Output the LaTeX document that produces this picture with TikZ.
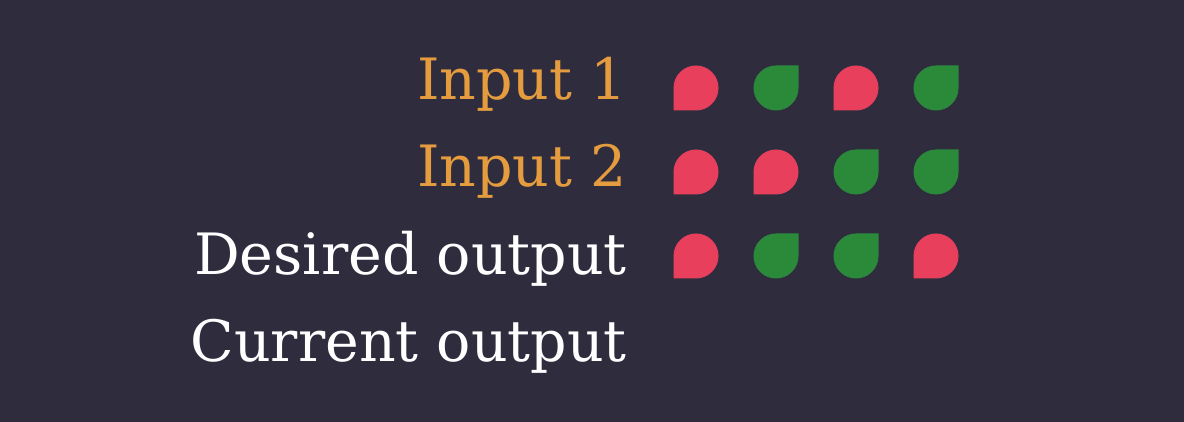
\documentclass[tikz,border=0pt]{standalone}
\usepackage{fontspec}
\setmainfont{DejaVu Serif}
\usepackage{tikz}
\usetikzlibrary{
	positioning
}
\definecolor{bg}{HTML}{2F2C3E}
\definecolor{inorange}{HTML}{E59C3F}
\definecolor{offred}{HTML}{E8405C}
\definecolor{ongreen}{HTML}{2A8A39}

\tikzset{
	lbl/.style={anchor=base east,inner sep=0,font=\fontsize{57}{61}\selectfont},
	offdrop/.style={minimum size=45pt,inner sep=0,
		path picture={\fill[offred] (path picture bounding box.south west)
			-- (path picture bounding box.west) arc[start angle=180,end angle=-90,radius=22.5pt] -- cycle;}},
	ondrop/.style={minimum size=45pt,inner sep=0,
		path picture={\fill[ongreen] (path picture bounding box.north east)
			-- (path picture bounding box.north) arc[start angle=90,end angle=360,radius=22.5pt] -- cycle;}}
}

\begin{document}
\begin{tikzpicture}[x=1pt,y=1pt,node distance=80pt]
		\fill[bg] (0,0) rectangle (1184,422);
		\useasboundingbox (0,0) rectangle (1184,422);

		\draw
			node[lbl,text=inorange] (in1)  at (627,322) {Input 1}
			node[lbl,text=inorange] (in2)  at (627,235) {Input 2}
			node[lbl,text=white]    (want) at (627,147) {Desired output}
			node[lbl,text=white]    (cur)  at (627,60)  {Current output}

			node[offdrop] (a1) at (696,334) {}
			node[ondrop,right of=a1]  (a2) {}
			node[offdrop,right of=a2] (a3) {}
			node[ondrop,right of=a3]  (a4) {}

			node[offdrop] (b1) at (696,250) {}
			node[offdrop,right of=b1] (b2) {}
			node[ondrop,right of=b2]  (b3) {}
			node[ondrop,right of=b3]  (b4) {}

			node[offdrop] (c1) at (696,166) {}
			node[ondrop,right of=c1]  (c2) {}
			node[ondrop,right of=c2]  (c3) {}
			node[offdrop,right of=c3] (c4) {}
		;
	\end{tikzpicture}
\end{document}
